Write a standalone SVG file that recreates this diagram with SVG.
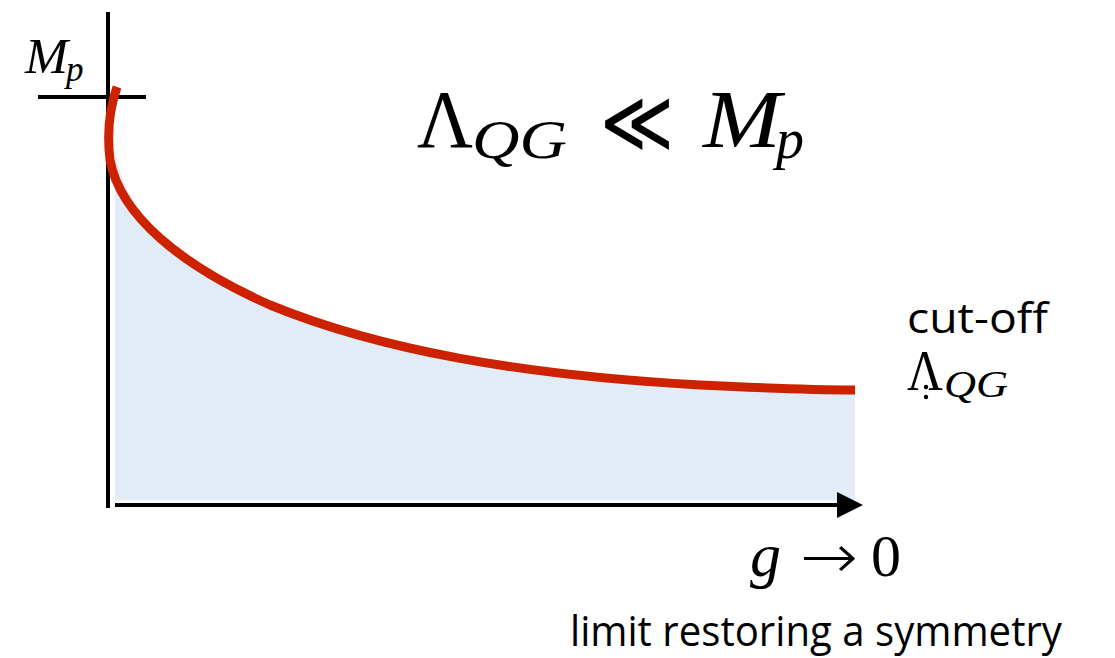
<svg xmlns="http://www.w3.org/2000/svg" width="1115" height="658" viewBox="0 0 1115 658">
<style>
.math{font-family:"Liberation Serif","DejaVu Serif",serif;fill:#000}
.it{font-style:italic}
.sym{font-family:"DejaVu Sans","Liberation Sans",sans-serif;font-weight:200;fill:#000}
.ll{font-family:"DejaVu Serif","DejaVu Sans",serif;fill:#000}
.sans{font-family:"Open Sans","Liberation Sans",sans-serif;fill:#000}
.axis{stroke:#000;stroke-width:4;fill:none}
</style>
<rect width="1115" height="658" fill="#fff"/>
<g id="fill">
<path d="M115,150 C125,215 180,265 270,305 C380,350 520,375 700,385 C780,389 830,390 855,390 L855,500 L115,500 Z" fill="#E1ECF7"/>
</g>
<g id="connectors">
<line class="axis" x1="108" y1="12" x2="108" y2="508"/>
<line class="axis" x1="38" y1="97" x2="146" y2="97"/>
<line class="axis" x1="115" y1="505" x2="840" y2="505"/>
<polygon points="837,492 863,505 837,518" fill="#000"/>
</g>
<g id="curve">
<path d="M117,87 C109,110 107,135 110,160 C120,215 180,265 270,305 C380,350 520,375 700,385 C780,389 830,390 855,390" fill="none" stroke="#CC2200" stroke-width="9"/>
</g>
<g id="labels">
<text class="math it" x="25" y="73" font-size="50" textLength="43" lengthAdjust="spacingAndGlyphs">M</text>
<text class="math it" x="66" y="81" font-size="35">p</text>
<text class="math" x="417" y="147" font-size="82" textLength="56" lengthAdjust="spacingAndGlyphs">Λ</text>
<text class="math it" x="472" y="158" font-size="54" textLength="95" lengthAdjust="spacingAndGlyphs">QG</text>
<text class="ll" x="600" y="152" font-size="88" textLength="74" lengthAdjust="spacingAndGlyphs">≪</text>
<text class="math it" x="703" y="147" font-size="82" textLength="78" lengthAdjust="spacingAndGlyphs">M</text>
<text class="math it" x="776" y="158" font-size="56">p</text>
<text class="sans" x="907" y="333" font-size="42" textLength="141" lengthAdjust="spacingAndGlyphs">cut-off</text>
<text class="math" x="907" y="390" font-size="56" textLength="36" lengthAdjust="spacingAndGlyphs">Λ</text>
<text class="math it" x="944" y="397" font-size="38" textLength="64" lengthAdjust="spacingAndGlyphs">QG</text>
<circle cx="926" cy="387" r="2.2" fill="#000"/>
<circle cx="926" cy="397" r="2.2" fill="#000"/>
<text class="math it" x="750" y="576" font-size="62">g</text>
<text class="sym" x="800" y="578" font-size="62" textLength="58" lengthAdjust="spacingAndGlyphs">→</text>
<text class="math" x="871" y="576" font-size="60">0</text>
<text class="sans" x="570" y="646" font-size="42" textLength="492" lengthAdjust="spacingAndGlyphs">limit restoring a symmetry</text>
</g>
</svg>
